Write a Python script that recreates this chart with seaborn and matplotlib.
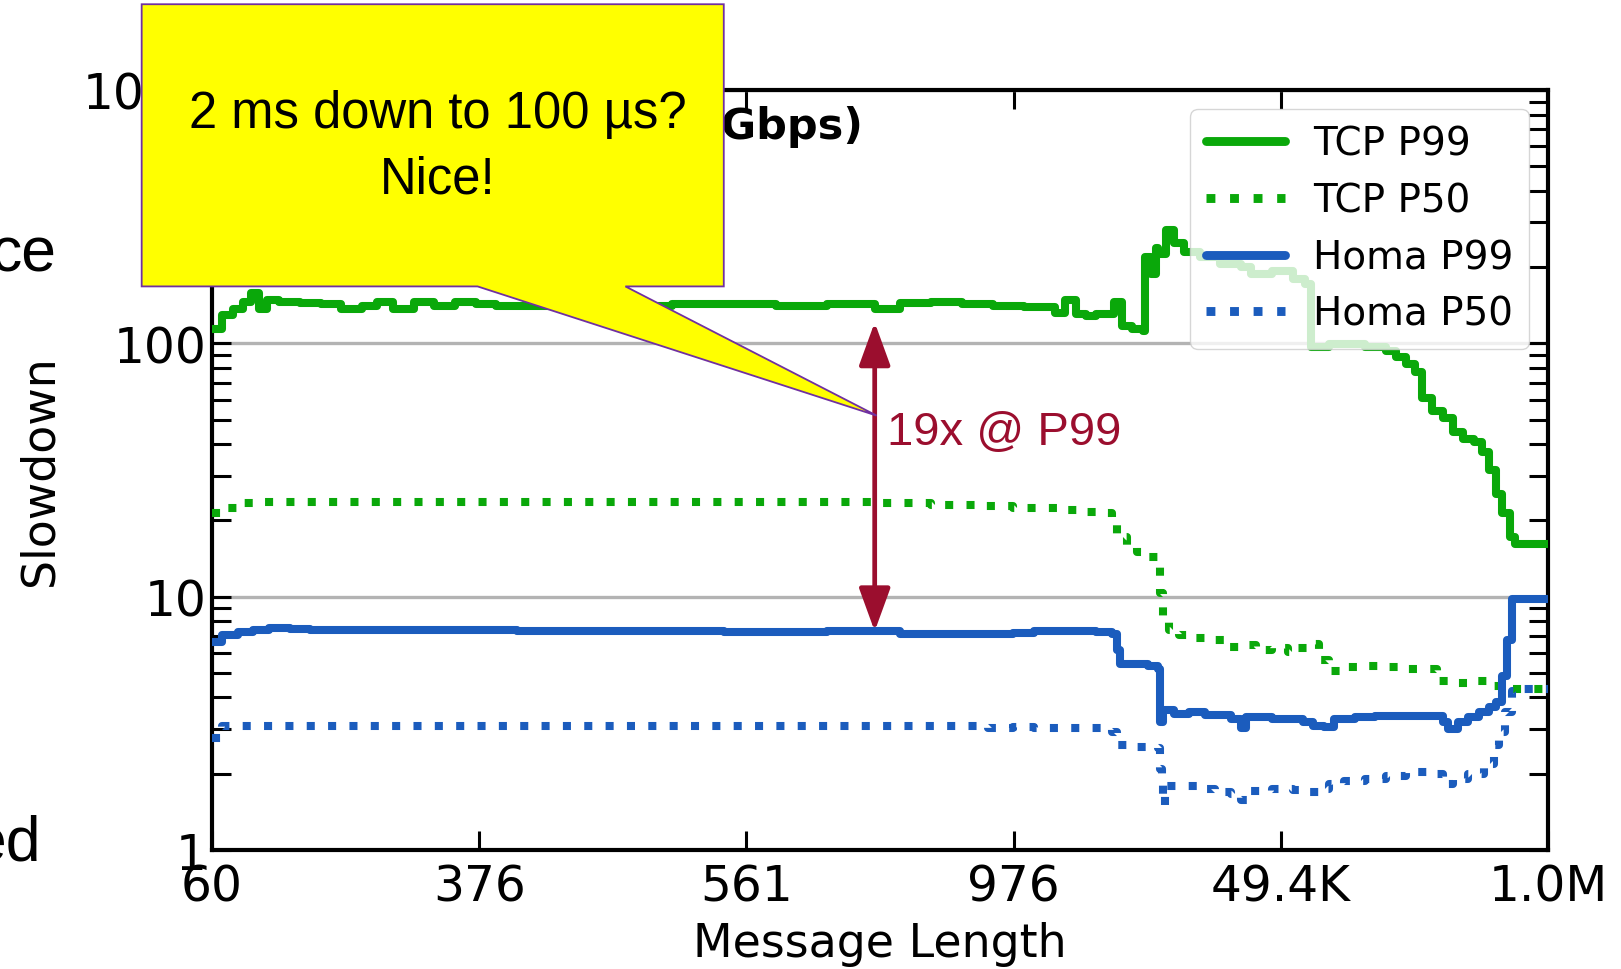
import numpy as np
import pandas as pd
import matplotlib
matplotlib.use("Agg")
import matplotlib.pyplot as plt
import seaborn as sns
from matplotlib.patches import Polygon
from matplotlib.ticker import LogLocator, NullFormatter
from matplotlib.lines import Line2D

# ---------------- data (x = cumulative fraction of messages) ----------------
tick_pos = [0.0, 0.2, 0.4, 0.6, 0.8, 1.0]
tick_labels = ["60", "376", "561", "976", "49.4K", "1.0M"]
ytick_vals = [1, 10, 100, 1000]
ytick_labels = ["1", "10", "100", "1000"]

tcp_p99_x = [0, 0.0077, 0.0155, 0.0232, 0.0294, 0.0348, 0.041, 0.0503, 0.0658, 0.0813,
             0.0967, 0.1122, 0.1238, 0.1354, 0.1509, 0.1664, 0.1819, 0.1974, 0.2128, 0.267,
             0.3057, 0.3444, 0.3831, 0.4218, 0.4605, 0.4961, 0.5147, 0.5379, 0.5611, 0.5844,
             0.6076, 0.6231, 0.6308, 0.6385, 0.6463, 0.654, 0.6618, 0.6695, 0.6749, 0.6811,
             0.6889, 0.6966, 0.6981, 0.7028, 0.7067, 0.7082, 0.7144, 0.7198, 0.7276, 0.7392,
             0.7546, 0.7701, 0.7779, 0.7933, 0.8088, 0.8181, 0.8228, 0.8359, 0.8475, 0.863,
             0.8785, 0.8862, 0.894, 0.9001, 0.9056, 0.9133, 0.9211, 0.9288, 0.9365, 0.9443,
             0.9505, 0.9559, 0.9613, 0.9659, 0.9714, 0.9752, 1.0]
tcp_p99_y = [114, 129, 137, 146, 158, 137, 148, 146, 144, 143,
             137, 141, 146, 137, 146, 141, 146, 143, 140, 141,
             140, 143, 143, 141, 143, 136, 144, 146, 143, 140,
             139, 139, 132, 148, 131, 128, 130, 131, 146, 117,
             114, 112, 219, 187, 237, 226, 280, 248, 230, 219,
             206, 200, 187, 193, 179, 171, 97, 99, 99, 97,
             93, 88.5, 83, 77, 61, 54, 50.5, 44.7, 41.9, 40.7,
             37.4, 31.6, 25.5, 21.3, 17.2, 16.1, 16.1]

tcp_p50_x = [0, 0.0077, 0.0194, 0.0348, 0.0735, 0.1509, 0.3057, 0.4605, 0.4961, 0.5379,
             0.5766, 0.5998, 0.6153, 0.6385, 0.654, 0.6656, 0.6734, 0.6772, 0.685, 0.6927,
             0.7005, 0.7082, 0.7098, 0.7121, 0.716, 0.7237, 0.7353, 0.7469, 0.7585, 0.7701,
             0.7817, 0.7933, 0.805, 0.8127, 0.8204, 0.8282, 0.8359, 0.8475, 0.863, 0.8785,
             0.894, 0.9056, 0.9172, 0.9327, 0.9443, 0.9559, 0.9675, 1.0]
tcp_p50_y = [21.3, 22.4, 23.4, 23.7, 23.7, 23.7, 23.7, 23.7, 23.4, 23.0,
             22.8, 22.4, 22.4, 21.9, 21.5, 21.3, 19.8, 17.2, 15.7, 15.0,
             14.3, 13.2, 10.3, 8.14, 7.41, 7.07, 6.87, 6.75, 6.32, 6.44,
             6.15, 6.26, 6.03, 6.26, 6.5, 5.6, 5.1, 5.29, 5.34, 5.29,
             5.19, 5.19, 4.64, 4.56, 4.64, 4.43, 4.31, 4.31]

homa_p99_x = [0, 0.0077, 0.0194, 0.031, 0.0426, 0.058, 0.0735, 0.1509, 0.2283, 0.3057,
              0.3831, 0.4605, 0.4961, 0.5147, 0.5379, 0.5766, 0.5998, 0.6153, 0.6385, 0.6618,
              0.6734, 0.6772, 0.6796, 0.6889, 0.7005, 0.7082, 0.7098, 0.7121, 0.7198, 0.7314,
              0.743, 0.7546, 0.7624, 0.7701, 0.774, 0.7817, 0.7933, 0.8088, 0.8166, 0.8243,
              0.832, 0.8398, 0.8553, 0.8707, 0.8862, 0.9094, 0.9211, 0.9249, 0.9327, 0.9404,
              0.9481, 0.9559, 0.9613, 0.9652, 0.969, 0.9729, 1.0]
homa_p99_y = [6.62, 7.07, 7.27, 7.41, 7.55, 7.48, 7.41, 7.41, 7.34, 7.34,
              7.27, 7.34, 7.34, 7.13, 7.13, 7.13, 7.2, 7.34, 7.34, 7.27,
              7.13, 6.15, 5.44, 5.44, 5.34, 5.19, 3.19, 3.57, 3.44, 3.5,
              3.41, 3.41, 3.28, 3.02, 3.35, 3.35, 3.28, 3.28, 3.19, 3.1,
              3.05, 3.28, 3.35, 3.38, 3.38, 3.38, 3.19, 2.99, 3.19, 3.35,
              3.5, 3.67, 3.85, 4.86, 6.75, 9.82, 9.82]

homa_p50_x = [0, 0.0077, 0.0194, 0.1509, 0.3057, 0.4605, 0.5689, 0.5805, 0.5998, 0.6153,
              0.6385, 0.6618, 0.6734, 0.6772, 0.685, 0.7005, 0.7082, 0.7098, 0.7113, 0.7121,
              0.7136, 0.7237, 0.7392, 0.7508, 0.7624, 0.7701, 0.7779, 0.7933, 0.8088, 0.8204,
              0.8282, 0.8359, 0.8475, 0.863, 0.8785, 0.894, 0.9094, 0.9211, 0.9288, 0.9404,
              0.952, 0.9598, 0.9636, 0.9675, 0.9729, 0.9791, 1.0]
homa_p50_y = [2.77, 3.1, 3.1, 3.1, 3.1, 3.1, 3.1, 3.02, 3.07, 3.02,
              3.02, 3.02, 2.91, 2.6, 2.55, 2.55, 2.53, 2.09, 1.82, 1.51,
              1.79, 1.79, 1.74, 1.69, 1.66, 1.58, 1.71, 1.74, 1.72, 1.69,
              1.74, 1.82, 1.87, 1.91, 1.96, 2.04, 2.0, 1.82, 1.91, 2.0,
              2.19, 2.6, 2.91, 3.5, 4.23, 4.31, 4.31]

series_names = ["TCP P99", "TCP P50", "Homa P99", "Homa P50"]

# arrow annotation endpoints (slowdown values at x = 0.496)
gap_x = 0.496
gap_low = 7.3
gap_high = 121

GREEN = "#0aa80a"
BLUE = "#1b5cbd"
DARKRED = "#9b0e2e"

# ---------------- figure ----------------
sns.set_theme(style="ticks")
plt.rcParams["font.family"] = ["DejaVu Sans"]

fig = plt.figure(figsize=(16.21, 9.70), dpi=100)
fig.patch.set_facecolor("white")
ax = fig.add_axes([0.1308, 0.1227, 0.8242, 0.7835])
ax.set_facecolor("white")

LW = 5.8
styles = [(GREEN, "-"), (GREEN, ":"), (BLUE, "-"), (BLUE, ":")]
data_xy = [(tcp_p99_x, tcp_p99_y), (tcp_p50_x, tcp_p50_y),
           (homa_p99_x, homa_p99_y), (homa_p50_x, homa_p50_y)]
for name, (xs, ys), (col, ls) in zip(series_names, data_xy, styles):
    df = pd.DataFrame({"x": xs, "y": ys})
    sns.lineplot(data=df, x="x", y="y", ax=ax, color=col, linestyle=ls,
                 linewidth=LW, drawstyle="steps-post", sort=False,
                 estimator=None, errorbar=None, legend=False, zorder=3)

ax.set_yscale("log")
ax.set_xlim(0, 1)
ax.set_ylim(1, 1000)
ax.set_xticks(tick_pos)
ax.set_xticklabels(tick_labels)
ax.set_yticks(ytick_vals)
ax.set_yticklabels(ytick_labels)
ax.yaxis.set_minor_locator(LogLocator(base=10, subs=np.arange(2, 10)))
ax.yaxis.set_minor_formatter(NullFormatter())
ax.tick_params(which="both", direction="in", top=True, right=True,
               length=14, width=2.2, color="black", labelsize=35, labelcolor="black")
ax.tick_params(axis="x", which="minor", top=False, bottom=False)
ax.tick_params(axis="y", pad=4)
ax.tick_params(axis="x", pad=9)

ax.set_axisbelow(True)
ax.yaxis.grid(True, which="major", color="#b3b3b3", linewidth=2.4)
ax.xaxis.grid(False)
for s in ax.spines.values():
    s.set_linewidth(3)
    s.set_color("black")
    s.set_visible(True)

ax.set_xlabel("Message Length", fontsize=33, color="black")
ax.set_ylabel("Slowdown", fontsize=33, color="black")
ax.xaxis.set_label_coords(0.5, -0.094)
ax.yaxis.set_label_coords(-0.112, 0.5)

# title (mostly hidden under the callout)
ax.text(0.487, 0.953, "W4 (25 Gbps)", transform=ax.transAxes, ha="right",
        va="center", fontsize=31, fontweight="bold", color="black", zorder=4)

# legend
handles = [Line2D([], [], color=c, linestyle=ls, linewidth=LW + 0.6) for c, ls in styles]
leg = ax.legend(handles, series_names, loc="upper right", fontsize=28,
                handlelength=2.05, handletextpad=0.7, labelspacing=0.48,
                borderpad=0.4, frameon=True, framealpha=0.8, fancybox=True,
                edgecolor="#cccccc", borderaxespad=0.5, labelcolor="black")
leg.set_zorder(5)

# double arrow and gap label
ax.annotate("", xy=(gap_x, gap_low), xytext=(gap_x, gap_high),
            arrowprops=dict(arrowstyle="<|-|>,head_length=0.55,head_width=0.2",
                            color=DARKRED, lw=3.4, mutation_scale=48,
                            shrinkA=0, shrinkB=0), zorder=6)
ax.text(0.5055, 44.7, "19x @ P99", color=DARKRED, fontsize=34,
        family=["Liberation Sans", "DejaVu Sans"], ha="left", va="center", zorder=6)

# callout bubble (figure coordinates)
callout = Polygon([(0.0874, 0.9946), (0.4465, 0.9946), (0.4465, 0.7037),
                   (0.3858, 0.7037), (0.5408, 0.5705), (0.2946, 0.7037),
                   (0.0874, 0.7037)], closed=True, transform=fig.transFigure,
                  facecolor="#ffff00", edgecolor="#7030a0", linewidth=1.3, zorder=10)
fig.add_artist(callout)
fig.text(0.2700, 0.8480, "2 ms down to 100 µs?\nNice!", ha="center", va="center",
         multialignment="center", linespacing=1.42, fontsize=36.5,
         family=["Liberation Sans", "DejaVu Sans"], color="black", zorder=11)

# fragments of slide text at the left edge
fig.text(0.0349, 0.7206, "ce", ha="right", va="baseline", fontsize=45,
         family=["Liberation Sans", "DejaVu Sans"], color="black")
fig.text(0.0250, 0.1134, "ed", ha="right", va="baseline", fontsize=45,
         family=["Liberation Sans", "DejaVu Sans"], color="black")

fig.savefig("out.png", dpi=100, facecolor="white")
